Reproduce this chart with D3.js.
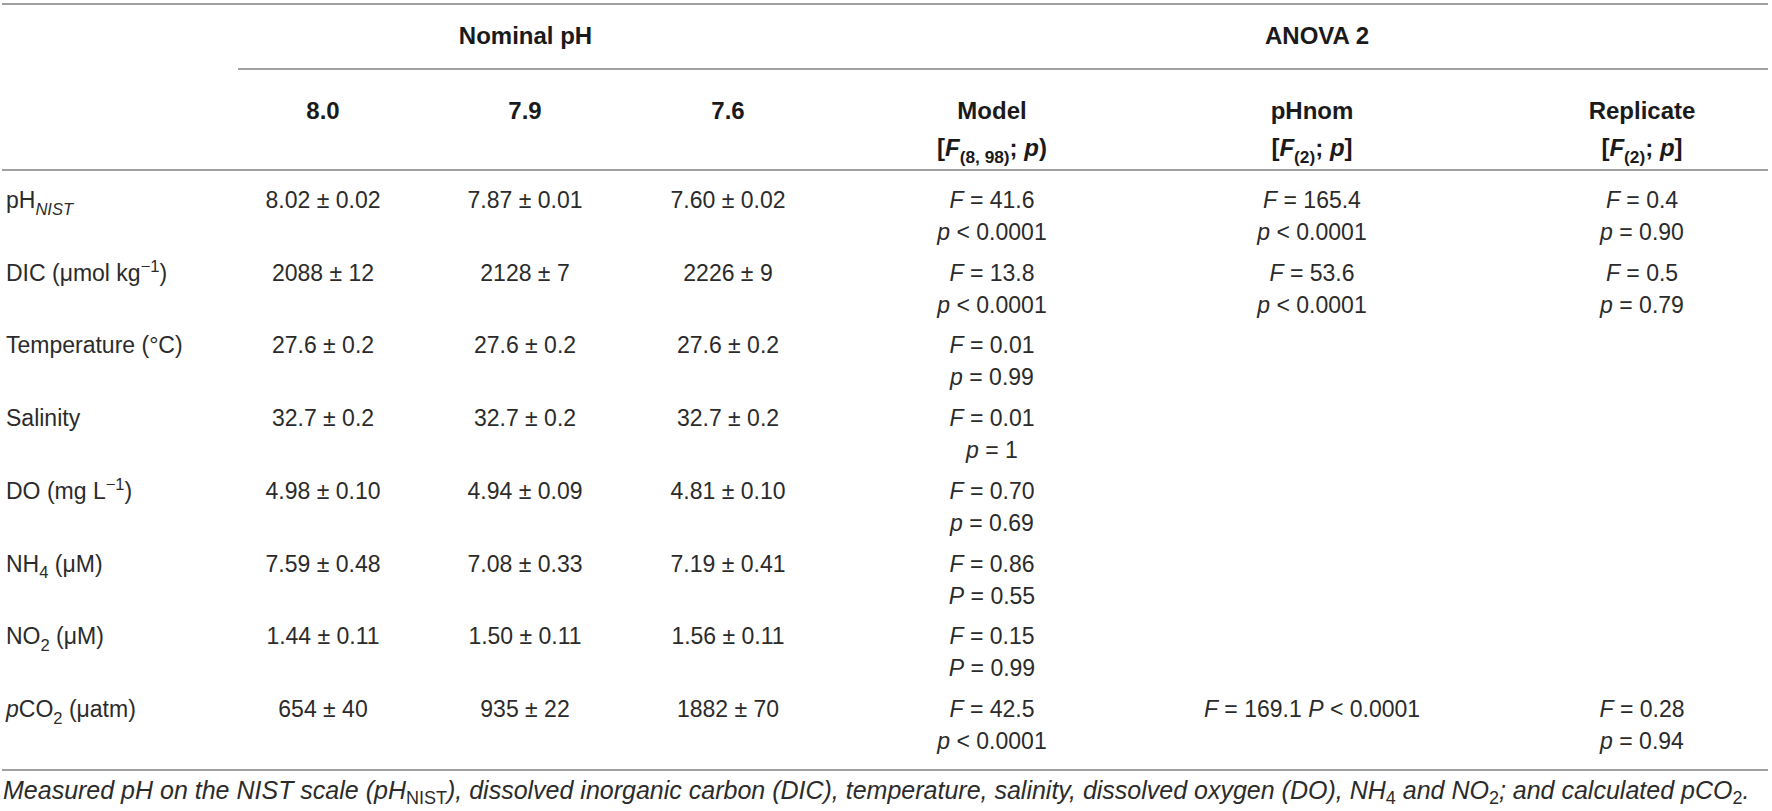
<!DOCTYPE html>
<html>
<head>
<meta charset="utf-8">
<script src="https://cdn.jsdelivr.net/npm/d3@7"></script>
<style>
body { margin: 0; background: #fff; }
svg { display: block; }
.cell { font-family: "Liberation Sans", Arial, sans-serif; font-size: 23px; fill: #2b2b2b; }
.head { font-family: "Liberation Sans", Arial, sans-serif; font-weight: bold; font-size: 24px; fill: #1a1a1a; }
.rule { stroke: #a0a0a0; stroke-width: 2; }
</style>
</head>
<body>
<div id="chart"></div>
<script>
// markup in strings: *x* italic, _{x} subscript, ^{x} superscript
var groupLabels = ["Nominal pH", "ANOVA 2"];
var groupCols = [["8.0", "7.6"], ["Model", "Replicate"]];

var colKeys = ["8.0", "7.9", "7.6", "Model", "pHnom", "Replicate"];
var colHead2 = [null, null, null, "[*F*_{(8, 98)}; *p*)", "[*F*_{(2)}; *p*]", "[*F*_{(2)}; *p*]"];

var rowLabels = [
	"pH_{*NIST*}",
	"DIC (\u03bcmol kg^{\u22121})",
	"Temperature (\u00b0C)",
	"Salinity",
	"DO (mg L^{\u22121})",
	"NH_{4} (\u03bcM)",
	"NO_{2} (\u03bcM)",
	"*p*CO_{2} (\u03bcatm)"
];

var ph80 = ["8.02 \u00b1 0.02", "2088 \u00b1 12", "27.6 \u00b1 0.2", "32.7 \u00b1 0.2", "4.98 \u00b1 0.10", "7.59 \u00b1 0.48", "1.44 \u00b1 0.11", "654 \u00b1 40"];
var ph79 = ["7.87 \u00b1 0.01", "2128 \u00b1 7", "27.6 \u00b1 0.2", "32.7 \u00b1 0.2", "4.94 \u00b1 0.09", "7.08 \u00b1 0.33", "1.50 \u00b1 0.11", "935 \u00b1 22"];
var ph76 = ["7.60 \u00b1 0.02", "2226 \u00b1 9", "27.6 \u00b1 0.2", "32.7 \u00b1 0.2", "4.81 \u00b1 0.10", "7.19 \u00b1 0.41", "1.56 \u00b1 0.11", "1882 \u00b1 70"];

var modelF = ["41.6", "13.8", "0.01", "0.01", "0.70", "0.86", "0.15", "42.5"];
var modelP = ["p < 0.0001", "p < 0.0001", "p = 0.99", "p = 1", "p = 0.69", "P = 0.55", "P = 0.99", "p < 0.0001"];
var pHnomF = ["165.4", "53.6", null, null, null, null, null, "169.1"];
var pHnomP = ["p < 0.0001", "p < 0.0001", null, null, null, null, null, "P < 0.0001"];
var replF = ["0.4", "0.5", null, null, null, null, null, "0.28"];
var replP = ["p = 0.90", "p = 0.79", null, null, null, null, null, "p = 0.94"];
// the pCO2 / pHnom cell is printed on one line in the source
var inlineCells = ["7|pHnom"];

var caption = "*Measured pH on the NIST scale (pH_{NIST}), dissolved inorganic carbon (DIC), temperature, salinity, dissolved oxygen (DO), NH_{4} and NO_{2}; and calculated pCO_{2}.*";

var W = 1772, H = 811;

var svg = d3.select("#chart").append("svg")
	.attr("width", W)
	.attr("height", H);

var x = d3.scaleOrdinal()
	.domain(colKeys)
	.range([323, 525, 728, 992, 1312, 1642]);

var y = d3.scalePoint()
	.domain(d3.range(rowLabels.length))
	.range([200, 709]);

var lineGap = 32;

function parseRich(str){
	var out = [];
	var re = /(_\{[^}]*\}|\^\{[^}]*\}|\*[^*]*\*)/g;
	str.split(re).forEach(function(tok){
		if(!tok) return;
		if(tok[0] === "_" || tok[0] === "^"){
			var inner = tok.slice(2, -1), it = false;
			if(inner[0] === "*"){ it = true; inner = inner.slice(1, -1); }
			out.push({t: inner, it: it, shift: tok[0] === "_" ? 1 : -1});
		}else if(tok[0] === "*" && tok.length > 1 && tok[tok.length - 1] === "*"){
			out.push({t: tok.slice(1, -1), it: true, shift: 0});
		}else{
			out.push({t: tok, it: false, shift: 0});
		}
	});
	return out;
}

// fills a <text> with tspans
function rich(text, str, size, allItalic, subDrop){
	var cur = 0;
	var segs;
	var drop = subDrop == null ? 0.3 : subDrop;
	if(allItalic){
		// whole string italic: strip outer markers, subscripts stay upright
		segs = parseRich(str.slice(1, -1)).map(function(s){ s.it = !s.shift; return s; });
	}else{
		segs = parseRich(str);
	}
	segs.forEach(function(s){
		var ts = text.append("tspan").text(s.t);
		var target = s.shift > 0 ? size * drop : (s.shift < 0 ? -size * 0.38 : 0);
		if(target !== cur){ ts.attr("dy", target - cur); cur = target; }
		if(s.shift) ts.style("font-size", (size * 0.72) + "px");
		if(s.it) ts.style("font-style", "italic");
	});
	return text;
}

function statF(v){ return "*F* = " + v; }
function statP(v){ return "*" + v[0] + "*" + v.slice(1); }

// rules
var rules = [
	{x1: 2, x2: 1768, y: 4},
	{x1: 238, x2: 1768, y: 69},
	{x1: 2, x2: 1768, y: 170},
	{x1: 2, x2: 1768, y: 770}
];
svg.selectAll("line.rule").data(rules).enter().append("line")
	.attr("class", "rule")
	.attr("x1", function(d){ return d.x1; })
	.attr("x2", function(d){ return d.x2; })
	.attr("y1", function(d){ return d.y; })
	.attr("y2", function(d){ return d.y; });

// group headers
svg.selectAll("text.group").data(groupLabels).enter().append("text")
	.attr("class", "head group")
	.attr("text-anchor", "middle")
	.attr("x", function(d, i){ return (x(groupCols[i][0]) + x(groupCols[i][1])) / 2; })
	.attr("y", 35 + 9)
	.text(function(d){ return d; });

// column headers
colKeys.forEach(function(k, i){
	svg.append("text")
		.attr("class", "head")
		.attr("text-anchor", "middle")
		.attr("x", x(k))
		.attr("y", 110 + 9)
		.text(k);
	if(colHead2[i]){
		rich(svg.append("text")
			.attr("class", "head")
			.attr("text-anchor", "middle")
			.attr("x", x(k))
			.attr("y", 147 + 9), colHead2[i], 24, false);
	}
});

// body
var base = 8; // centre of cap height to baseline
rowLabels.forEach(function(lab, r){
	var yy = y(r) + base;
	rich(svg.append("text").attr("class", "cell").attr("x", 6).attr("y", yy), lab, 23, false);

	[ph80, ph79, ph76].forEach(function(col, c){
		svg.append("text")
			.attr("class", "cell")
			.attr("text-anchor", "middle")
			.attr("x", x(colKeys[c]))
			.attr("y", yy)
			.text(col[r]);
	});

	[["Model", modelF, modelP], ["pHnom", pHnomF, pHnomP], ["Replicate", replF, replP]].forEach(function(s){
		var key = s[0], fv = s[1][r], pv = s[2][r];
		if(fv == null) return;
		if(inlineCells.indexOf(r + "|" + key) >= 0){
			rich(svg.append("text").attr("class", "cell").attr("text-anchor", "middle")
				.attr("x", x(key)).attr("y", yy), statF(fv) + " " + statP(pv), 23, false);
			return;
		}
		rich(svg.append("text").attr("class", "cell").attr("text-anchor", "middle")
			.attr("x", x(key)).attr("y", yy), statF(fv), 23, false);
		rich(svg.append("text").attr("class", "cell").attr("text-anchor", "middle")
			.attr("x", x(key)).attr("y", yy + lineGap), statP(pv), 23, false);
	});
});

// footnote
rich(svg.append("text").attr("class", "cell").style("font-size", "25px")
	.attr("x", 3).attr("y", 799), caption, 25, true, 0.2);
</script>
</body>
</html>
